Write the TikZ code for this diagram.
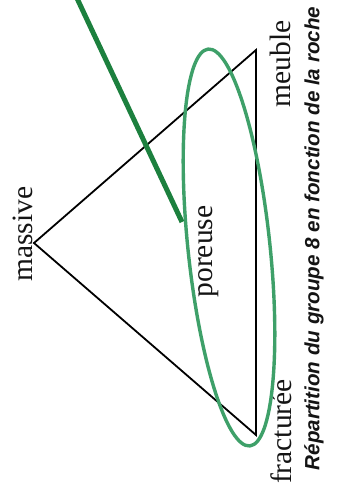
\documentclass[tikz,border=0pt]{standalone}
\usepackage{fontspec}
\setmainfont{Liberation Serif}
\newfontfamily\capfont{Liberation Sans}
\definecolor{ellgreen}{RGB}{62,160,105}
\definecolor{linegreen}{RGB}{28,128,62}
\tikzset{
  lbl/.style={rotate=90, inner sep=0pt, font=\fontsize{29.5}{31}\selectfont, text=black!92},
  caption/.style={rotate=90, inner sep=0pt, font=\capfont\bfseries\itshape\fontsize{20.6}{22}\selectfont, text=black!92},
  tri/.style={draw=black, line width=1.8pt, line join=miter},
  ring/.style={draw=ellgreen, line width=3.4pt},
  pointer/.style={draw=linegreen, line width=5pt}
}
\begin{document}
\begin{tikzpicture}[x=1pt,y=-1pt]
\useasboundingbox (0,0) rectangle (340,488);
\clip (0,0) rectangle (340,488);
\fill[white] (0,0) rectangle (340,488);
% triangle vertices
\coordinate (vm) at (34,243);
\coordinate (vu) at (256,50);
\coordinate (vf) at (256,435);
\draw[tri] (vm) -- (vu) -- (vf) -- cycle;
% labels
\node[lbl] (massive) at (23,234) {massive};
\node[lbl] (meuble) at (280,64) {meuble};
\node[lbl] (poreuse) at (209,251.5) {poreuse};
\node[lbl] (fracturee) at (281,431.5) {fracturée};
\node[caption] (cap) at (314,238.5) {Répartition du groupe 8 en fonction de la roche};
% ellipse
\coordinate (ec) at (229,247.5);
\draw[ring, rotate around={6:(ec)}] (ec) ellipse [x radius=41, y radius=199.5];
% pointer line
\coordinate (ptop) at (75,-6);
\coordinate (pend) at (182,222);
\draw[pointer] (ptop) -- (pend);
\end{tikzpicture}
\end{document}
